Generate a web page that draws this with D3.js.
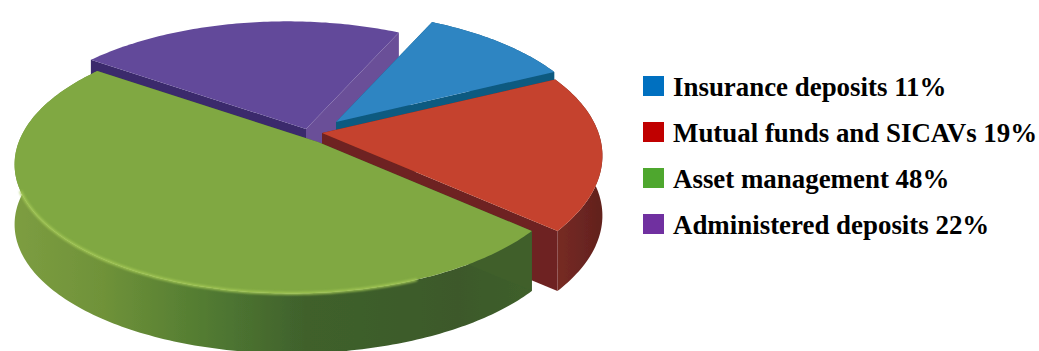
<!DOCTYPE html>
<html><head><meta charset="utf-8">
<style>html,body{margin:0;padding:0;background:#fff}svg{display:block}</style>
<script src="https://cdn.jsdelivr.net/npm/d3@7"></script></head>
<body><svg id="c" width="1039" height="351"></svg>
<script>
const categories = ["Insurance deposits","Mutual funds and SICAVs","Asset management","Administered deposits"];
const values = [11,19,48,22];
const legendColors = ["#0070c0","#c00000","#4ea72e","#7030a0"];
const faceColors = ["#2f85c2","#c5432d","#80a843","#62499a"];
const wallColors = ["#0f5a80","#6e2420","#3f5f2c","#3a2c6c"];
const sliceOffsetX = [18,4,0,-12];
const sliceOffsetY = [-19,-8,1,-12];
const sliceScale = [1,1.08,0.985,0.96];
const drawOrder = [3,0,1,2];

const W=1039,H=351;
const svg=d3.select("#c");
const defs=svg.append("defs");
defs.append("filter").attr("id","soft").attr("x","-5%").attr("y","-5%").attr("width","110%").attr("height","110%")
  .append("feGaussianBlur").attr("stdDeviation",0.7);
defs.append("filter").attr("id","rimblur").attr("filterUnits","userSpaceOnUse").attr("x",0).attr("y",0).attr("width",W).attr("height",H)
  .append("feGaussianBlur").attr("stdDeviation",1.3);

function grad(id,stops){
  const g=defs.append("linearGradient").attr("id",id).attr("gradientUnits","userSpaceOnUse")
    .attr("x1",0).attr("x2",610).attr("y1",0).attr("y2",0);
  stops.forEach(s=>g.append("stop").attr("offset",s[0]).attr("stop-color",s[1]));
}
grad("gSide",[[0,"#7f9f42"],[0.17,"#6f9239"],[0.33,"#537c32"],[0.5,"#3f612c"],[0.75,"#3c592b"],[0.87,"#3f5f2b"],[1,"#3f5f2b"]]);
grad("rSide",[[0,"#6e2420"],[0.85,"#6e2420"],[0.92,"#752a24"],[1,"#5e1f1c"]]);

// Perspective ground plane
const X0=318,Y0=141,R=279,Rk=129,P=0.16,Q=0.083,DEPTH=60;
function project(angle,rad,i,h){
  const u=Math.sin(angle)*rad*sliceScale[i],v=Math.cos(angle)*rad*sliceScale[i];
  const w=1+P*v+Q*u;
  return [X0+sliceOffsetX[i]+R*u/w, Y0+sliceOffsetY[i]-Rk*v/w+(h||0)];
}
const pie=d3.pie().sort(null).startAngle(24*Math.PI/180).endAngle(384*Math.PI/180);
const arcs=pie(values);
const line=d3.line();
const g=svg.append("g").attr("filter","url(#soft)");

function rimPts(a,i,h){
  const n=Math.max(8,Math.round((a.endAngle-a.startAngle)*60));
  return d3.range(n+1).map(k=>project(a.startAngle+(a.endAngle-a.startAngle)*k/n,1,i,h));
}
drawOrder.forEach(i=>{
  const a=arcs[i];
  const top=rimPts(a,i,0), bot=rimPts(a,i,DEPTH);
  const apexT=project(0,0,i,0), apexB=project(0,0,i,DEPTH);
  // outer wall
  if(i!==3){
    g.append("path").attr("d",line(top.concat(bot.slice().reverse()))+"Z")
      .attr("fill",i===2?"url(#gSide)":i===1?"url(#rSide)":wallColors[i]);
  }
  // radial walls
  [top[0],top[top.length-1]].forEach((p,k)=>{
    const q=k?bot[bot.length-1]:bot[0];
    g.append("path").attr("d",line([apexT,p,q,apexB])+"Z")
      .attr("fill",i===3&&k===1?"#6a4f98":wallColors[i]);
  });
  // top face
  g.append("path").attr("d",line([apexT].concat(top))+"Z").attr("fill",faceColors[i]);
  if(i===2){
    const seg=top.filter(p=>p[1]>190 && p[0]<420);
    svg.append("path").attr("d",line(seg)).attr("fill","none").attr("stroke","#a4c956")
      .attr("stroke-width",3).attr("stroke-opacity",0.85).attr("filter","url(#rimblur)");
  }
});

// Legend
const rowY=d3.scaleLinear().domain([0,3]).range([96,234]);
const leg=svg.append("g");
categories.forEach((c,i)=>{
  leg.append("rect").attr("x",643).attr("y",rowY(i)-20).attr("width",21).attr("height",20).attr("fill",legendColors[i]);
  leg.append("text").attr("x",673).attr("y",rowY(i))
    .attr("font-family","'Liberation Serif',serif").attr("font-weight","bold").attr("font-size",26.9)
    .attr("fill","#000").text(c+" "+values[i]+"%");
});
</script></body></html>
